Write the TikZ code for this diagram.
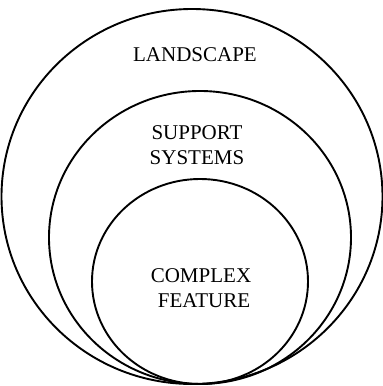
\documentclass[tikz,border=0pt]{standalone}
\usepackage{fontspec}
\setmainfont{Liberation Serif}
\usepackage{tikz}

\begin{document}
\begin{tikzpicture}[x=1pt,y=1pt,
    ring/.style={line width=1.9pt},
    lbl/.style={align=center,font=\fontsize{21}{25}\selectfont,inner sep=0pt}]
      \useasboundingbox (0,0) rectangle (383,386);
      \draw[ring] (192,189.5) ellipse (190.5 and 187.5);
      \draw[ring] (200,148.5) ellipse (151 and 146.5);
      \draw[ring] (200,104.5) ellipse (108 and 102.5);
      \node[lbl] (landscape) at (195,331) {LANDSCAPE};
      \node[lbl] (support) at (197,240.5) {SUPPORT\\SYSTEMS};
      \node[lbl] (feature) at (201,98) {COMPLEX\\\hspace*{6pt}FEATURE};
    \end{tikzpicture}
\end{document}
